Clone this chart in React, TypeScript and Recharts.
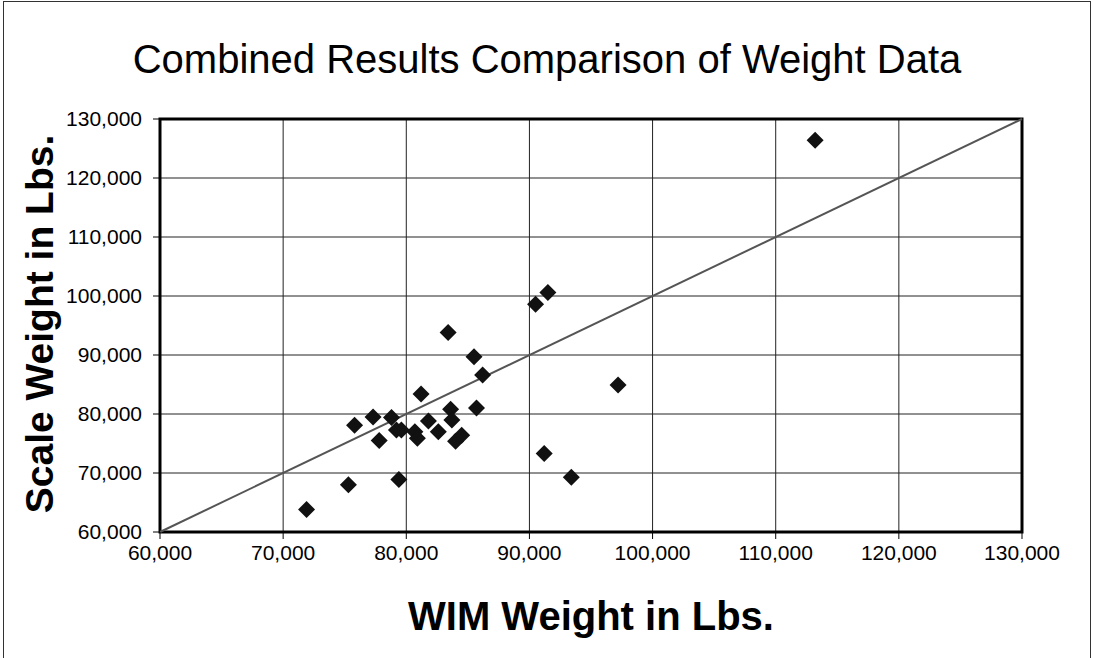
import React from "react";
import {
  ScatterChart,
  Scatter,
  XAxis,
  YAxis,
  CartesianGrid,
  ReferenceLine,
  ReferenceArea,
} from "recharts";

// WIM weight (x) vs scale weight (y), lbs
const wimWeights = [
  71900, 75300, 79400, 75800, 77300, 77800, 78800, 79200, 79600, 80700,
  80900, 81200, 81800, 82600, 83400, 83600, 83700, 84000, 84500, 85500,
  86200, 85700, 90500, 91500, 91200, 93400, 97200, 113200,
];
const scaleWeights = [
  63800, 68000, 68900, 78100, 79500, 75500, 79400, 77300, 77300, 77000,
  75900, 83400, 78800, 77000, 93800, 80800, 79000, 75400, 76400, 89700,
  86600, 81000, 98600, 100600, 73300, 69300, 84900, 126400,
];
const axisTicks = [60000, 70000, 80000, 90000, 100000, 110000, 120000, 130000];

const points = wimWeights.map((x, i) => ({ x, y: scaleWeights[i] }));

const fmt = (v: number) => v.toLocaleString("en-US");

const Diamond = (props: any) => {
  const { cx, cy } = props;
  const r = 8.5;
  return (
    <polygon
      points={`${cx},${cy - r} ${cx + r},${cy} ${cx},${cy + r} ${cx - r},${cy}`}
      fill="#111"
    />
  );
};

const font = "'Liberation Sans', Arial, sans-serif";

export default function App() {
  return (
    <div
      style={{
        position: "absolute",
        left: 0,
        top: 0,
        width: 1094,
        height: 658,
        background: "#fff",
        fontFamily: font,
        overflow: "hidden",
      }}
    >
      <div
        style={{
          position: "absolute",
          left: 3,
          top: 1,
          width: 1086,
          height: 680,
          border: "1.5px solid #333",
        }}
      />
      <div
        style={{
          position: "absolute",
          left: 0,
          width: 1094,
          top: 37,
          textAlign: "center",
          fontSize: 40,
          color: "#000",
        }}
      >
        Combined Results Comparison of Weight Data
      </div>
      <div
        style={{
          position: "absolute",
          left: 160,
          width: 862,
          top: 594,
          textAlign: "center",
          fontSize: 40,
          fontWeight: "bold",
          color: "#000",
        }}
      >
        WIM Weight in Lbs.
      </div>
      <div
        style={{
          position: "absolute",
          left: 40 - 250,
          top: 324 - 25,
          width: 500,
          height: 50,
          lineHeight: "50px",
          textAlign: "center",
          fontSize: 39,
          fontWeight: "bold",
          color: "#000",
          transform: "rotate(-90deg)",
        }}
      >
        Scale Weight in Lbs.
      </div>
      <div style={{ position: "absolute", left: 0, top: 0 }}>
        <ScatterChart
          width={1094}
          height={658}
          margin={{ top: 119, right: 72, bottom: 96, left: 0 }}
        >
          <CartesianGrid stroke="#222" strokeWidth={1} />
          <XAxis
            type="number"
            dataKey="x"
            domain={[60000, 130000]}
            ticks={axisTicks}
            tickFormatter={fmt}
            height={30}
            axisLine={false}
            tickSize={7}
            tickMargin={6}
            tickLine={{ stroke: "#000" }}
            tick={{ fill: "#000", fontSize: 21, fontFamily: font }}
            allowDataOverflow
          />
          <YAxis
            type="number"
            dataKey="y"
            domain={[60000, 130000]}
            ticks={axisTicks}
            tickFormatter={fmt}
            width={160}
            axisLine={false}
            tickSize={7}
            tickMargin={11}
            tickLine={{ stroke: "#000" }}
            tick={{ fill: "#000", fontSize: 21, fontFamily: font }}
            allowDataOverflow
          />
          <ReferenceArea
            x1={60000}
            x2={130000}
            y1={60000}
            y2={130000}
            fill="none"
            stroke="#000"
            strokeWidth={3}
            ifOverflow="visible"
          />
          <ReferenceLine
            segment={[
              { x: 60000, y: 60000 },
              { x: 130000, y: 130000 },
            ]}
            stroke="#555"
            strokeWidth={2}
            ifOverflow="visible"
          />
          <Scatter data={points} shape={<Diamond />} isAnimationActive={false} />
        </ScatterChart>
      </div>
    </div>
  );
}
